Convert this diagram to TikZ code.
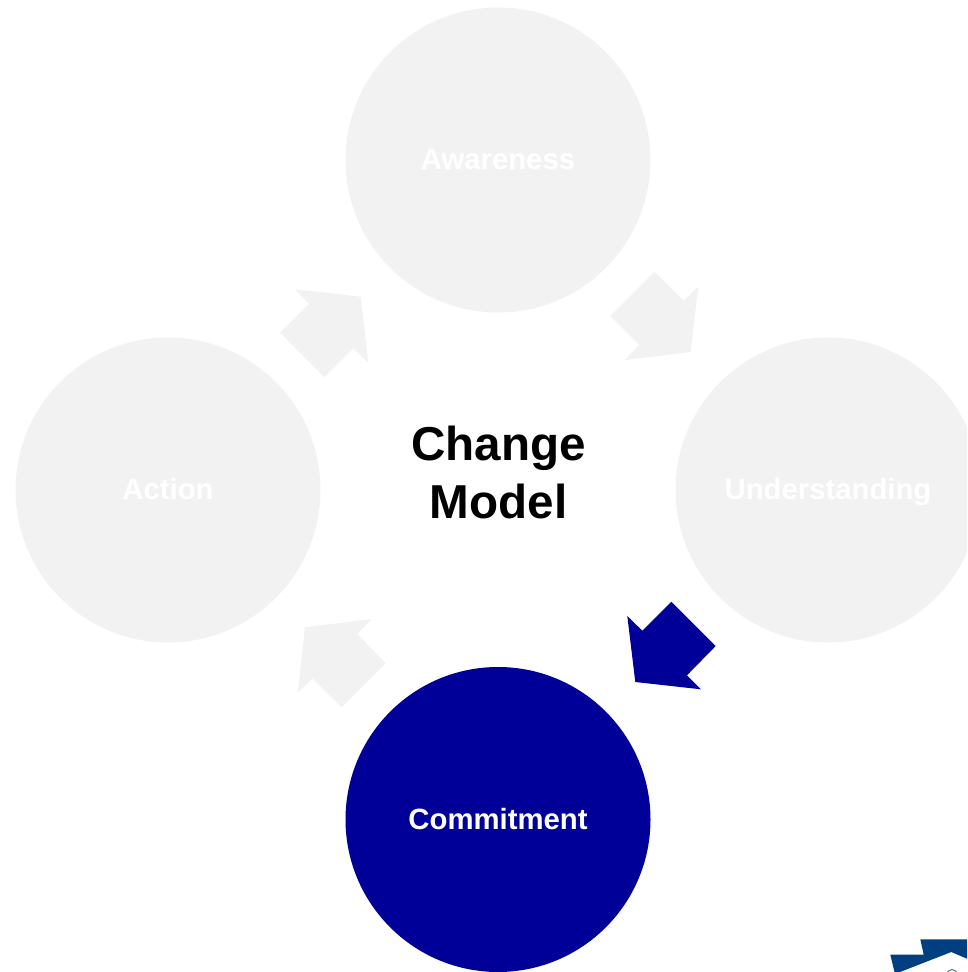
\documentclass[tikz,border=0pt]{standalone}
\usepackage{fontspec}
\setmainfont{Liberation Sans}
\definecolor{pale}{HTML}{F2F2F2}
\definecolor{navyblue}{HTML}{000099}
\definecolor{logoblue}{HTML}{004080}
\tikzset{
  phase/.style={circle,minimum size=305pt,inner sep=0pt,fill=pale,text=white,text height=19pt,text depth=0pt,font=\fontsize{29.3}{35}\selectfont\bfseries},
  phaseon/.style={phase,fill=navyblue},
  flow/.style={fill=pale,draw=none},
  flowon/.style={fill=navyblue,draw=none}
}
\begin{document}
\begin{tikzpicture}[x=1pt,y=-1pt]
\path[use as bounding box] (0,0) rectangle (967,972);
\clip (0,0) rectangle (967,972);
\node[phase] (aw) at (498,160) {Awareness};
\node[phase] (un) at (828,490) {Understanding};
\node[phaseon] (co) at (498,819.5) {Commitment};
\node[phase] (ac) at (168,490) {Action};
\node[align=center,font=\fontsize{47.6}{58}\selectfont\bfseries,text=black] (ce) at (498.5,472) {Change\\Model};
\fill[flow] (295,289.3) -- (309,304) -- (280,332.7) -- (324.3,377.3) -- (353.3,348.3) -- (368.3,362.7) -- (360.7,296.7) -- cycle;
\fill[flow] (698.3,286.7) -- (683.3,300.7) -- (654.3,271.7) -- (610,316) -- (639,345) -- (625,360) -- (690.7,352) -- cycle;
\fill[flowon] (627.3,616) -- (642.3,630.7) -- (671.3,601.7) -- (715.7,646) -- (687,675.3) -- (701,689.3) -- (635.3,682) -- cycle;
\fill[flow] (371.7,619) -- (357.3,634) -- (385.7,663.3) -- (341.7,707.3) -- (312.3,678.3) -- (297.7,693) -- (305,627.3) -- cycle;
\fill[logoblue] (920.3,939.3) -- (923.7,954.7) -- (890.3,954.7) -- (894.5,972) -- (900,972) -- (951.3,952) -- (967,958.7) -- (967,939.3) -- cycle;
\draw[logoblue!70,line width=1pt] (946.5,975) arc[start angle=180,end angle=360,radius=5.5];
\end{tikzpicture}
\end{document}
